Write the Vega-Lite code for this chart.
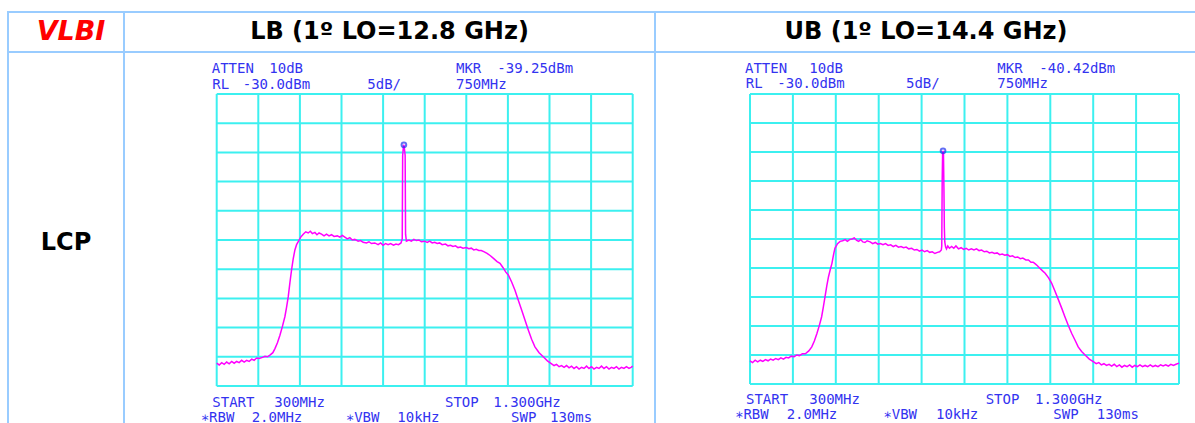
{
  "$schema": "https://vega.github.io/schema/vega-lite/v6.json",
  "padding": {"left": 7, "top": 11, "right": 0, "bottom": 0},
  "background": "white",
  "config": {
    "view": {"stroke": null},
    "concat": {"spacing": 0}
  },
  "datasets": {
    "vgrid": [{"f": 300}, {"f": 400}, {"f": 500}, {"f": 600}, {"f": 700}, {"f": 800}, {"f": 900}, {"f": 1000}, {"f": 1100}, {"f": 1200}, {"f": 1300}],
    "hgrid": [{"d": -80}, {"d": -75}, {"d": -70}, {"d": -65}, {"d": -60}, {"d": -55}, {"d": -50}, {"d": -45}, {"d": -40}, {"d": -35}, {"d": -30}],
    "cell": [{"c": 1}],
    "lb": [
      {"f": 300, "db": -76.1}, {"f": 306, "db": -76.4}, {"f": 312, "db": -76.0}, {"f": 318, "db": -76.3}, {"f": 324, "db": -75.9}, {"f": 330, "db": -76.2}, {"f": 336, "db": -75.8}, {"f": 342, "db": -76.1}, {"f": 348, "db": -75.8}, {"f": 354, "db": -76.0}, {"f": 360, "db": -75.6}, {"f": 366, "db": -75.9}, {"f": 372, "db": -75.6}, {"f": 378, "db": -75.8}, {"f": 384, "db": -75.4}, {"f": 390, "db": -75.6}, {"f": 396, "db": -75.2}, {"f": 402, "db": -75.3}, {"f": 410, "db": -75.1}, {"f": 416, "db": -74.9}, {"f": 422, "db": -75.0}, {"f": 428, "db": -74.7}, {"f": 435, "db": -74.3}, {"f": 440, "db": -73.6}, {"f": 446, "db": -72.6}, {"f": 452, "db": -71.3}, {"f": 458, "db": -69.8}, {"f": 464, "db": -68.1}, {"f": 468, "db": -66.5}, {"f": 472, "db": -64.7}, {"f": 476, "db": -62.3}, {"f": 480, "db": -60.1}, {"f": 484, "db": -58.2}, {"f": 488, "db": -56.7}, {"f": 492, "db": -55.8}, {"f": 496, "db": -55.3}, {"f": 502, "db": -54.5}, {"f": 508, "db": -54.0}, {"f": 514, "db": -53.6}, {"f": 520, "db": -53.8}, {"f": 525, "db": -53.5}, {"f": 530, "db": -53.9}, {"f": 536, "db": -53.7}, {"f": 541, "db": -54.1}, {"f": 546, "db": -53.8}, {"f": 552, "db": -54.0}, {"f": 558, "db": -54.3}, {"f": 564, "db": -54.0}, {"f": 570, "db": -54.3}, {"f": 576, "db": -54.1}, {"f": 582, "db": -54.4}, {"f": 590, "db": -54.3}, {"f": 596, "db": -54.5}, {"f": 602, "db": -54.2}, {"f": 608, "db": -54.5}, {"f": 614, "db": -54.8}, {"f": 620, "db": -54.6}, {"f": 626, "db": -55.0}, {"f": 632, "db": -54.9}, {"f": 640, "db": -55.2}, {"f": 646, "db": -55.1}, {"f": 652, "db": -55.4}, {"f": 660, "db": -55.5}, {"f": 666, "db": -55.3}, {"f": 672, "db": -55.6}, {"f": 680, "db": -55.5}, {"f": 688, "db": -55.8}, {"f": 694, "db": -55.5}, {"f": 700, "db": -55.9}, {"f": 706, "db": -55.6}, {"f": 712, "db": -55.8}, {"f": 718, "db": -55.6}, {"f": 725, "db": -55.9}, {"f": 731, "db": -55.7}, {"f": 737, "db": -55.8}, {"f": 743, "db": -55.5}, {"f": 746, "db": -54.8}, {"f": 747, "db": -40.5}, {"f": 749, "db": -38.9}, {"f": 750, "db": -38.7}, {"f": 751, "db": -39.2}, {"f": 753, "db": -40.5}, {"f": 754, "db": -54.0}, {"f": 756, "db": -55.2}, {"f": 762, "db": -55.0}, {"f": 768, "db": -55.2}, {"f": 774, "db": -54.9}, {"f": 780, "db": -55.1}, {"f": 786, "db": -55.0}, {"f": 792, "db": -55.3}, {"f": 800, "db": -55.2}, {"f": 806, "db": -55.4}, {"f": 812, "db": -55.2}, {"f": 818, "db": -55.5}, {"f": 824, "db": -55.4}, {"f": 830, "db": -55.6}, {"f": 836, "db": -55.5}, {"f": 842, "db": -55.8}, {"f": 850, "db": -55.7}, {"f": 856, "db": -56.0}, {"f": 862, "db": -55.9}, {"f": 868, "db": -56.1}, {"f": 874, "db": -56.0}, {"f": 880, "db": -56.3}, {"f": 886, "db": -56.2}, {"f": 892, "db": -56.4}, {"f": 900, "db": -56.3}, {"f": 906, "db": -56.5}, {"f": 912, "db": -56.4}, {"f": 918, "db": -56.7}, {"f": 924, "db": -56.6}, {"f": 930, "db": -56.8}, {"f": 936, "db": -56.8}, {"f": 942, "db": -57.0}, {"f": 950, "db": -57.3}, {"f": 958, "db": -57.7}, {"f": 966, "db": -58.2}, {"f": 974, "db": -58.7}, {"f": 981, "db": -59.0}, {"f": 988, "db": -59.7}, {"f": 995, "db": -60.5}, {"f": 1001, "db": -61.0}, {"f": 1009, "db": -62.2}, {"f": 1017, "db": -63.6}, {"f": 1025, "db": -65.3}, {"f": 1033, "db": -67.0}, {"f": 1041, "db": -68.7}, {"f": 1049, "db": -70.4}, {"f": 1057, "db": -72.0}, {"f": 1065, "db": -73.3}, {"f": 1075, "db": -74.3}, {"f": 1085, "db": -75.0}, {"f": 1095, "db": -75.7}, {"f": 1105, "db": -76.2}, {"f": 1111, "db": -76.5}, {"f": 1117, "db": -76.3}, {"f": 1123, "db": -76.7}, {"f": 1129, "db": -76.5}, {"f": 1135, "db": -76.8}, {"f": 1141, "db": -76.5}, {"f": 1147, "db": -76.9}, {"f": 1153, "db": -76.6}, {"f": 1159, "db": -77.0}, {"f": 1165, "db": -76.7}, {"f": 1171, "db": -77.1}, {"f": 1177, "db": -76.8}, {"f": 1183, "db": -77.0}, {"f": 1189, "db": -76.6}, {"f": 1195, "db": -77.0}, {"f": 1201, "db": -76.7}, {"f": 1207, "db": -77.1}, {"f": 1213, "db": -76.8}, {"f": 1219, "db": -77.0}, {"f": 1225, "db": -76.6}, {"f": 1231, "db": -77.0}, {"f": 1237, "db": -76.7}, {"f": 1243, "db": -77.1}, {"f": 1249, "db": -76.8}, {"f": 1255, "db": -77.0}, {"f": 1261, "db": -76.7}, {"f": 1267, "db": -77.1}, {"f": 1273, "db": -76.8}, {"f": 1279, "db": -77.0}, {"f": 1285, "db": -76.7}, {"f": 1291, "db": -77.0}, {"f": 1296, "db": -76.8}, {"f": 1300, "db": -76.6}
    ],
    "ub": [
      {"f": 300, "db": -76.0}, {"f": 306, "db": -76.3}, {"f": 312, "db": -75.9}, {"f": 318, "db": -76.2}, {"f": 324, "db": -75.9}, {"f": 330, "db": -76.1}, {"f": 336, "db": -75.8}, {"f": 342, "db": -76.0}, {"f": 348, "db": -75.7}, {"f": 354, "db": -75.9}, {"f": 360, "db": -75.6}, {"f": 366, "db": -75.8}, {"f": 372, "db": -75.5}, {"f": 378, "db": -75.7}, {"f": 384, "db": -75.4}, {"f": 390, "db": -75.5}, {"f": 396, "db": -75.2}, {"f": 403, "db": -75.3}, {"f": 409, "db": -75.0}, {"f": 415, "db": -75.1}, {"f": 422, "db": -74.8}, {"f": 429, "db": -74.8}, {"f": 437, "db": -74.3}, {"f": 444, "db": -73.6}, {"f": 450, "db": -72.6}, {"f": 456, "db": -71.3}, {"f": 462, "db": -69.8}, {"f": 467, "db": -68.4}, {"f": 471, "db": -66.7}, {"f": 475, "db": -64.9}, {"f": 479, "db": -63.1}, {"f": 483, "db": -61.5}, {"f": 487, "db": -60.3}, {"f": 491, "db": -59.2}, {"f": 495, "db": -57.6}, {"f": 498, "db": -56.6}, {"f": 504, "db": -55.8}, {"f": 510, "db": -55.4}, {"f": 516, "db": -55.3}, {"f": 522, "db": -55.1}, {"f": 527, "db": -55.4}, {"f": 532, "db": -55.1}, {"f": 538, "db": -55.0}, {"f": 543, "db": -54.8}, {"f": 548, "db": -55.2}, {"f": 553, "db": -55.4}, {"f": 558, "db": -55.1}, {"f": 563, "db": -55.5}, {"f": 568, "db": -55.6}, {"f": 573, "db": -55.3}, {"f": 580, "db": -55.5}, {"f": 586, "db": -55.8}, {"f": 592, "db": -55.6}, {"f": 598, "db": -55.9}, {"f": 604, "db": -55.8}, {"f": 610, "db": -56.0}, {"f": 616, "db": -55.8}, {"f": 622, "db": -56.1}, {"f": 628, "db": -56.0}, {"f": 634, "db": -56.3}, {"f": 640, "db": -56.1}, {"f": 646, "db": -56.4}, {"f": 652, "db": -56.3}, {"f": 658, "db": -56.5}, {"f": 664, "db": -56.4}, {"f": 670, "db": -56.7}, {"f": 677, "db": -56.6}, {"f": 683, "db": -56.9}, {"f": 689, "db": -56.8}, {"f": 695, "db": -57.1}, {"f": 701, "db": -56.9}, {"f": 707, "db": -57.2}, {"f": 713, "db": -57.0}, {"f": 719, "db": -57.3}, {"f": 725, "db": -57.2}, {"f": 731, "db": -57.5}, {"f": 737, "db": -57.3}, {"f": 742, "db": -57.2}, {"f": 746, "db": -56.9}, {"f": 747, "db": -56.2}, {"f": 748, "db": -45.0}, {"f": 749, "db": -40.2}, {"f": 750, "db": -39.8}, {"f": 751, "db": -40.3}, {"f": 752, "db": -46.0}, {"f": 753, "db": -53.0}, {"f": 754, "db": -55.5}, {"f": 756, "db": -56.4}, {"f": 758, "db": -56.7}, {"f": 761, "db": -56.2}, {"f": 765, "db": -56.6}, {"f": 770, "db": -56.3}, {"f": 775, "db": -56.6}, {"f": 780, "db": -56.2}, {"f": 786, "db": -56.7}, {"f": 792, "db": -56.5}, {"f": 798, "db": -56.8}, {"f": 804, "db": -56.6}, {"f": 810, "db": -56.9}, {"f": 816, "db": -56.7}, {"f": 822, "db": -56.9}, {"f": 828, "db": -56.7}, {"f": 834, "db": -57.0}, {"f": 840, "db": -56.9}, {"f": 846, "db": -57.2}, {"f": 852, "db": -57.1}, {"f": 858, "db": -57.4}, {"f": 864, "db": -57.3}, {"f": 870, "db": -57.5}, {"f": 876, "db": -57.4}, {"f": 882, "db": -57.7}, {"f": 888, "db": -57.6}, {"f": 894, "db": -57.8}, {"f": 900, "db": -57.7}, {"f": 906, "db": -58.0}, {"f": 912, "db": -57.9}, {"f": 918, "db": -58.2}, {"f": 924, "db": -58.1}, {"f": 930, "db": -58.4}, {"f": 936, "db": -58.3}, {"f": 943, "db": -58.6}, {"f": 949, "db": -58.6}, {"f": 955, "db": -59.0}, {"f": 960, "db": -59.0}, {"f": 965, "db": -59.3}, {"f": 970, "db": -59.6}, {"f": 975, "db": -60.0}, {"f": 982, "db": -60.5}, {"f": 988, "db": -60.9}, {"f": 996, "db": -61.7}, {"f": 1003, "db": -62.6}, {"f": 1011, "db": -64.0}, {"f": 1019, "db": -65.5}, {"f": 1027, "db": -67.0}, {"f": 1034, "db": -68.4}, {"f": 1042, "db": -69.9}, {"f": 1050, "db": -71.3}, {"f": 1058, "db": -72.5}, {"f": 1065, "db": -73.6}, {"f": 1073, "db": -74.4}, {"f": 1081, "db": -75.0}, {"f": 1091, "db": -75.7}, {"f": 1101, "db": -76.2}, {"f": 1107, "db": -76.5}, {"f": 1113, "db": -76.3}, {"f": 1119, "db": -76.7}, {"f": 1125, "db": -76.5}, {"f": 1131, "db": -76.8}, {"f": 1137, "db": -76.6}, {"f": 1143, "db": -76.9}, {"f": 1149, "db": -76.6}, {"f": 1155, "db": -77.0}, {"f": 1161, "db": -76.7}, {"f": 1167, "db": -77.1}, {"f": 1173, "db": -76.8}, {"f": 1179, "db": -77.0}, {"f": 1185, "db": -76.7}, {"f": 1191, "db": -77.1}, {"f": 1197, "db": -76.8}, {"f": 1203, "db": -77.0}, {"f": 1209, "db": -76.7}, {"f": 1215, "db": -77.0}, {"f": 1221, "db": -76.8}, {"f": 1227, "db": -77.0}, {"f": 1233, "db": -76.7}, {"f": 1239, "db": -77.0}, {"f": 1245, "db": -76.8}, {"f": 1251, "db": -77.0}, {"f": 1257, "db": -76.7}, {"f": 1263, "db": -76.9}, {"f": 1269, "db": -76.7}, {"f": 1275, "db": -76.9}, {"f": 1281, "db": -76.6}, {"f": 1287, "db": -76.8}, {"f": 1293, "db": -76.6}, {"f": 1300, "db": -76.4}
    ],
    "lbmkr": [{"f": 750, "db": -38.7}],
    "ubmkr": [{"f": 750, "db": -39.8}],
    "lbtext": [
      {"t": "ATTEN", "f": 288.0, "d": -26.46}, {"t": "10dB", "f": 426.4, "d": -26.46}, {"t": "MKR", "f": 875.2, "d": -26.46}, {"t": "-39.25dBm", "f": 974.5, "d": -26.46},
      {"t": "RL", "f": 289.4, "d": -29.2}, {"t": "-30.0dBm", "f": 362.5, "d": -29.2}, {"t": "5dB/", "f": 662.0, "d": -29.2}, {"t": "750MHz", "f": 875.2, "d": -29.2},
      {"t": "START", "f": 289.4, "d": -83.54}, {"t": "300MHz", "f": 438.5, "d": -83.54}, {"t": "STOP", "f": 848.8, "d": -83.54}, {"t": "1.300GHz", "f": 964.9, "d": -83.54},
      {"t": "∗RBW", "f": 261.5, "d": -86.11}, {"t": "2.0MHz", "f": 384.1, "d": -86.11}, {"t": "∗VBW", "f": 610.1, "d": -86.11}, {"t": "10kHz", "f": 734.1, "d": -86.11}, {"t": "SWP", "f": 1007.5, "d": -86.11}, {"t": "130ms", "f": 1101.2, "d": -86.11}
    ],
    "ubtext": [
      {"t": "ATTEN", "f": 288.3, "d": -26.43}, {"t": "10dB", "f": 438.2, "d": -26.43}, {"t": "MKR", "f": 876.5, "d": -26.43}, {"t": "-40.42dBm", "f": 974.4, "d": -26.43},
      {"t": "RL", "f": 290.0, "d": -29.02}, {"t": "-30.0dBm", "f": 363.6, "d": -29.02}, {"t": "5dB/", "f": 663.6, "d": -29.02}, {"t": "750MHz", "f": 876.5, "d": -29.02},
      {"t": "START", "f": 290.7, "d": -83.45}, {"t": "300MHz", "f": 438.2, "d": -83.45}, {"t": "STOP", "f": 849.4, "d": -83.45}, {"t": "1.300GHz", "f": 964.3, "d": -83.45},
      {"t": "∗RBW", "f": 265.0, "d": -86.03}, {"t": "2.0MHz", "f": 385.5, "d": -86.03}, {"t": "∗VBW", "f": 610.7, "d": -86.03}, {"t": "10kHz", "f": 733.6, "d": -86.03}, {"t": "SWP", "f": 1007.0, "d": -86.03}, {"t": "130ms", "f": 1108.2, "d": -86.03}
    ]
  },
  "columns": 3,
  "spacing": 0,
  "bounds": "flush",
  "align": "each",
  "concat": [
    {
      "width": 116, "height": 40,
      "layer": [
        {"data": {"name": "cell"}, "mark": {"type": "rect", "filled": false, "color": "#99CCFF", "strokeWidth": 2}, "encoding": {}},
        {
          "data": {"values": [{"t": "VLBI"}]},
          "mark": {"type": "text", "font": "DejaVu Sans", "fontSize": 27, "fontWeight": "bold", "fontStyle": "italic", "color": "#FF0000", "baseline": "middle", "dx": 5},
          "encoding": {"text": {"field": "t"}}
        }
      ]
    },
    {
      "width": 531, "height": 40,
      "layer": [
        {"data": {"name": "cell"}, "mark": {"type": "rect", "filled": false, "color": "#99CCFF", "strokeWidth": 2}, "encoding": {}},
        {
          "data": {"values": [{"t": "LB (1º LO=12.8 GHz)"}]},
          "mark": {"type": "text", "font": "DejaVu Sans", "fontSize": 24, "fontWeight": "bold", "color": "#000000", "baseline": "middle"},
          "encoding": {"text": {"field": "t"}}
        }
      ]
    },
    {
      "width": 542, "height": 40,
      "layer": [
        {"data": {"name": "cell"}, "mark": {"type": "rect", "filled": false, "color": "#99CCFF", "strokeWidth": 2}, "encoding": {}},
        {
          "data": {"values": [{"t": "UB (1º LO=14.4 GHz)"}]},
          "mark": {"type": "text", "font": "DejaVu Sans", "fontSize": 24, "fontWeight": "bold", "color": "#000000", "baseline": "middle"},
          "encoding": {"text": {"field": "t"}}
        }
      ]
    },
    {
      "width": 116, "height": 382,
      "layer": [
        {"data": {"name": "cell"}, "mark": {"type": "rect", "filled": false, "color": "#99CCFF", "strokeWidth": 2}, "encoding": {}},
        {
          "data": {"values": [{"t": "LCP"}]},
          "mark": {"type": "text", "font": "DejaVu Sans", "fontSize": 24, "fontWeight": "bold", "color": "#000000", "baseline": "middle"},
          "encoding": {"text": {"field": "t"}}
        }
      ]
    },
    {
      "width": 531, "height": 382,
      "layer": [
        {"data": {"name": "cell"}, "mark": {"type": "rect", "filled": false, "color": "#99CCFF", "strokeWidth": 2}, "encoding": {}},
        {
          "data": {"name": "vgrid"},
          "mark": {"type": "rule", "color": "#3CF0F0", "strokeWidth": 2},
          "encoding": {
            "x": {"field": "f", "type": "quantitative", "scale": {"domain": [77.16, 1353.6], "nice": false, "zero": false}, "axis": null},
            "y": {"datum": -80, "type": "quantitative", "scale": {"domain": [-88.22, -22.81], "nice": false, "zero": false}, "axis": null},
            "y2": {"datum": -30}
          }
        },
        {
          "data": {"name": "hgrid"},
          "mark": {"type": "rule", "color": "#3CF0F0", "strokeWidth": 2},
          "encoding": {
            "x": {"datum": 300, "type": "quantitative", "scale": {"domain": [77.16, 1353.6], "nice": false, "zero": false}, "axis": null},
            "x2": {"datum": 1300},
            "y": {"field": "d", "type": "quantitative", "scale": {"domain": [-88.22, -22.81], "nice": false, "zero": false}, "axis": null}
          }
        },
        {
          "data": {"name": "lb"},
          "mark": {"type": "line", "color": "#FF00FF", "strokeWidth": 1.5},
          "encoding": {
            "x": {"field": "f", "type": "quantitative", "scale": {"domain": [77.16, 1353.6], "nice": false, "zero": false}, "axis": null},
            "y": {"field": "db", "type": "quantitative", "scale": {"domain": [-88.22, -22.81], "nice": false, "zero": false}, "axis": null}
          }
        },
        {
          "data": {"name": "lbmkr"},
          "mark": {"type": "point", "shape": "circle", "filled": false, "color": "#2030F0", "size": 22, "strokeWidth": 2},
          "encoding": {
            "x": {"field": "f", "type": "quantitative", "scale": {"domain": [77.16, 1353.6], "nice": false, "zero": false}, "axis": null},
            "y": {"field": "db", "type": "quantitative", "scale": {"domain": [-88.22, -22.81], "nice": false, "zero": false}, "axis": null}
          }
        },
        {
          "data": {"name": "lbtext"},
          "mark": {"type": "text", "font": "DejaVu Sans Mono", "fontSize": 14, "color": "#3333F0", "align": "left", "baseline": "alphabetic"},
          "encoding": {
            "x": {"field": "f", "type": "quantitative", "scale": {"domain": [77.16, 1353.6], "nice": false, "zero": false}, "axis": null},
            "y": {"field": "d", "type": "quantitative", "scale": {"domain": [-88.22, -22.81], "nice": false, "zero": false}, "axis": null},
            "text": {"field": "t"}
          }
        }
      ]
    },
    {
      "width": 542, "height": 382,
      "layer": [
        {"data": {"name": "cell"}, "mark": {"type": "rect", "filled": false, "color": "#99CCFF", "strokeWidth": 2}, "encoding": {}},
        {
          "data": {"name": "vgrid"},
          "mark": {"type": "rule", "color": "#3CF0F0", "strokeWidth": 2},
          "encoding": {
            "x": {"field": "f", "type": "quantitative", "scale": {"domain": [78.55, 1341.96], "nice": false, "zero": false}, "axis": null},
            "y": {"datum": -80, "type": "quantitative", "scale": {"domain": [-88.62, -22.76], "nice": false, "zero": false}, "axis": null},
            "y2": {"datum": -30}
          }
        },
        {
          "data": {"name": "hgrid"},
          "mark": {"type": "rule", "color": "#3CF0F0", "strokeWidth": 2},
          "encoding": {
            "x": {"datum": 300, "type": "quantitative", "scale": {"domain": [78.55, 1341.96], "nice": false, "zero": false}, "axis": null},
            "x2": {"datum": 1300},
            "y": {"field": "d", "type": "quantitative", "scale": {"domain": [-88.62, -22.76], "nice": false, "zero": false}, "axis": null}
          }
        },
        {
          "data": {"name": "ub"},
          "mark": {"type": "line", "color": "#FF00FF", "strokeWidth": 1.5},
          "encoding": {
            "x": {"field": "f", "type": "quantitative", "scale": {"domain": [78.55, 1341.96], "nice": false, "zero": false}, "axis": null},
            "y": {"field": "db", "type": "quantitative", "scale": {"domain": [-88.62, -22.76], "nice": false, "zero": false}, "axis": null}
          }
        },
        {
          "data": {"name": "ubmkr"},
          "mark": {"type": "point", "shape": "circle", "filled": false, "color": "#2030F0", "size": 22, "strokeWidth": 2},
          "encoding": {
            "x": {"field": "f", "type": "quantitative", "scale": {"domain": [78.55, 1341.96], "nice": false, "zero": false}, "axis": null},
            "y": {"field": "db", "type": "quantitative", "scale": {"domain": [-88.62, -22.76], "nice": false, "zero": false}, "axis": null}
          }
        },
        {
          "data": {"name": "ubtext"},
          "mark": {"type": "text", "font": "DejaVu Sans Mono", "fontSize": 14, "color": "#3333F0", "align": "left", "baseline": "alphabetic"},
          "encoding": {
            "x": {"field": "f", "type": "quantitative", "scale": {"domain": [78.55, 1341.96], "nice": false, "zero": false}, "axis": null},
            "y": {"field": "d", "type": "quantitative", "scale": {"domain": [-88.62, -22.76], "nice": false, "zero": false}, "axis": null},
            "text": {"field": "t"}
          }
        }
      ]
    }
  ]
}
